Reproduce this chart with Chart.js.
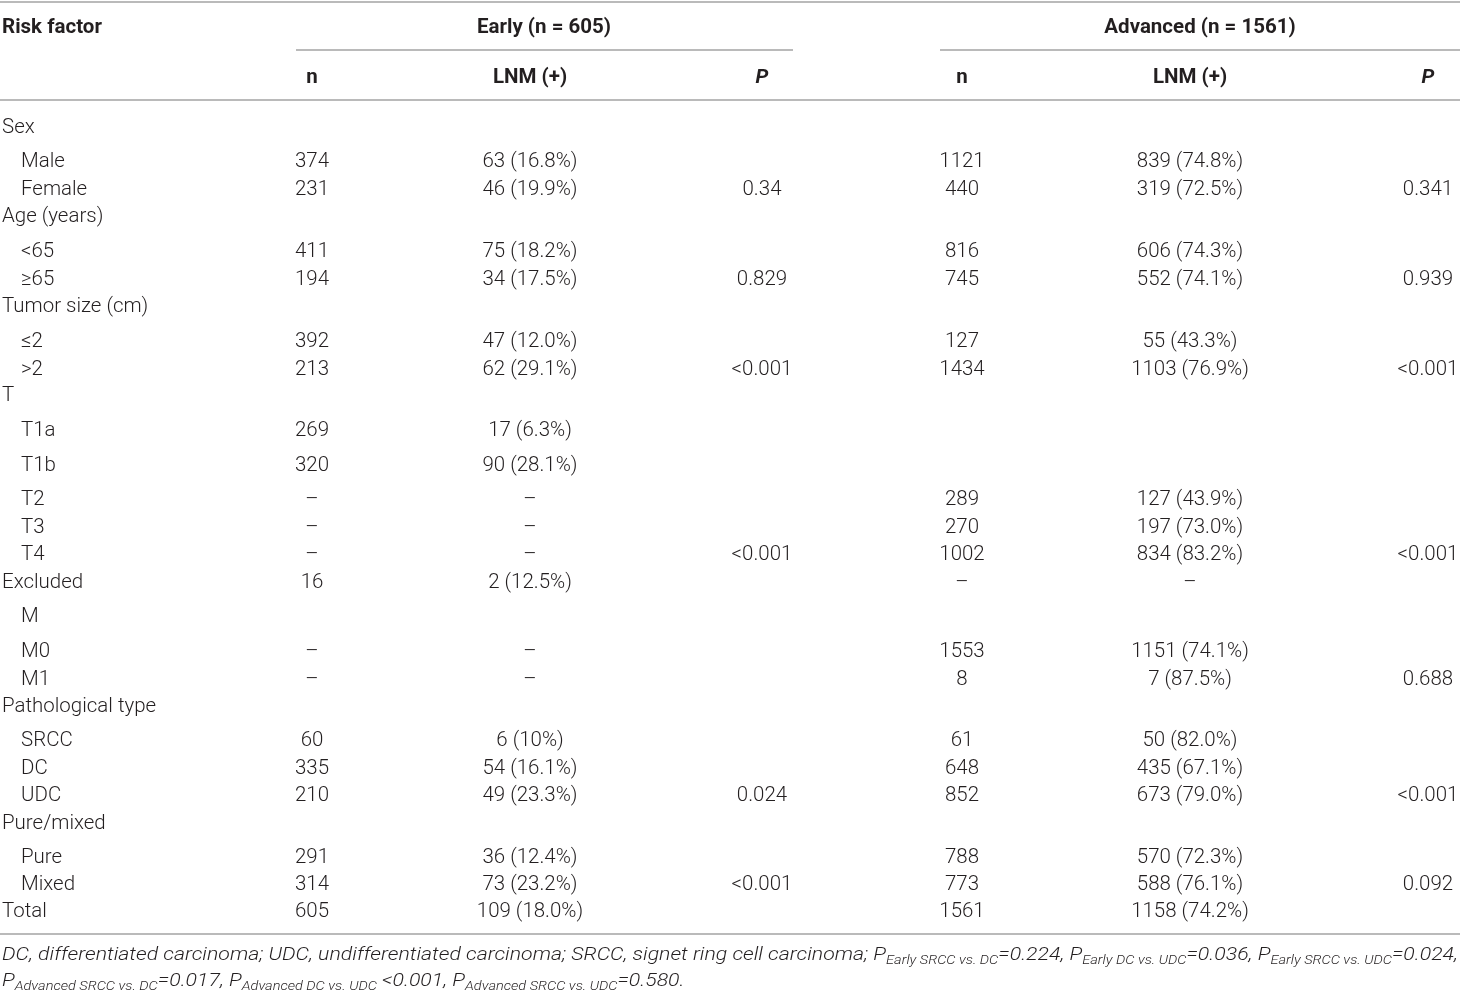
<!DOCTYPE html>
<html>
<head>
<meta charset="utf-8">
<script src="https://cdn.jsdelivr.net/npm/chart.js@4/dist/chart.umd.min.js"></script>
<style>
  html, body { margin: 0; padding: 0; background: #fff; }
  #wrap { width: 1460px; height: 991px; position: relative; }
</style>
</head>
<body>
<div id="wrap"><canvas id="myChart"></canvas></div>
<script>
// ---------------- table data ----------------
const rowLabels = [
  "Sex", "Male", "Female",
  "Age (years)", "<65", "≥65",
  "Tumor size (cm)", "≤2", ">2",
  "T", "T1a", "T1b", "T2", "T3", "T4",
  "Excluded", "M", "M0", "M1",
  "Pathological type", "SRCC", "DC", "UDC",
  "Pure/mixed", "Pure", "Mixed",
  "Total"
];
const earlyN = [
  "", "374", "231",
  "", "411", "194",
  "", "392", "213",
  "", "269", "320", "–", "–", "–",
  "16", "", "–", "–",
  "", "60", "335", "210",
  "", "291", "314",
  "605"
];
const earlyLNM = [
  "", "63 (16.8%)", "46 (19.9%)",
  "", "75 (18.2%)", "34 (17.5%)",
  "", "47 (12.0%)", "62 (29.1%)",
  "", "17 (6.3%)", "90 (28.1%)", "–", "–", "–",
  "2 (12.5%)", "", "–", "–",
  "", "6 (10%)", "54 (16.1%)", "49 (23.3%)",
  "", "36 (12.4%)", "73 (23.2%)",
  "109 (18.0%)"
];
const earlyP = [
  "", "", "0.34",
  "", "", "0.829",
  "", "", "<0.001",
  "", "", "", "", "", "<0.001",
  "", "", "", "",
  "", "", "", "0.024",
  "", "", "<0.001",
  ""
];
const advN = [
  "", "1121", "440",
  "", "816", "745",
  "", "127", "1434",
  "", "", "", "289", "270", "1002",
  "–", "", "1553", "8",
  "", "61", "648", "852",
  "", "788", "773",
  "1561"
];
const advLNM = [
  "", "839 (74.8%)", "319 (72.5%)",
  "", "606 (74.3%)", "552 (74.1%)",
  "", "55 (43.3%)", "1103 (76.9%)",
  "", "", "", "127 (43.9%)", "197 (73.0%)", "834 (83.2%)",
  "–", "", "1151 (74.1%)", "7 (87.5%)",
  "", "50 (82.0%)", "435 (67.1%)", "673 (79.0%)",
  "", "570 (72.3%)", "588 (76.1%)",
  "1158 (74.2%)"
];
const advP = [
  "", "", "0.341",
  "", "", "0.939",
  "", "", "<0.001",
  "", "", "", "", "", "<0.001",
  "", "", "", "0.688",
  "", "", "", "<0.001",
  "", "", "0.092",
  ""
];
const groupTitles = ["Early (n = 605)", "Advanced (n = 1561)"];
const colTitles = ["n", "LNM (+)", "P", "n", "LNM (+)", "P"];
const footLine1 = [
  ["DC, differentiated carcinoma; UDC, undifferentiated carcinoma; SRCC, signet ring cell carcinoma; P", 0],
  ["Early SRCC vs. DC", 1], ["=0.224, P", 0],
  ["Early DC vs. UDC", 1], ["=0.036, P", 0],
  ["Early SRCC vs. UDC", 1], ["=0.024,", 0]
];
const footLine2 = [
  ["P", 0], ["Advanced SRCC vs. DC", 1], ["=0.017, P", 0],
  ["Advanced DC vs. UDC", 1], [" <0.001, P", 0],
  ["Advanced SRCC vs. UDC", 1], ["=0.580.", 0]
];

// ---------------- layout (scale units) ----------------
const rowY = [126, 160, 188, 215, 250, 278, 305, 340, 368, 394, 429, 464, 498, 526, 553,
  581, 615, 650, 678, 705, 739, 767, 794, 822, 856, 883, 910];
const indented = [0, 1, 1, 0, 1, 1, 0, 1, 1, 0, 1, 1, 1, 1, 1, 0, 1, 1, 1, 0, 1, 1, 1, 0, 1, 1, 0];
const colX = [312, 530, 762, 962, 1190, 1428];
const textColor = "#231f20";
const ruleColor = "#a3a3a3";
const bodyFont = "300 20px Roboto";
const boldFont = "700 20px Roboto";

const columns = [earlyN, earlyLNM, earlyP, advN, advLNM, advP];

function cellPoints(values, x) {
  return values.map((v, i) => ({ x: x, y: rowY[i], t: v }));
}

const datasets = [
  {
    label: "Risk factor",
    data: rowLabels.map((v, i) => ({ x: indented[i] ? 21 : 2, y: rowY[i], t: v })),
    align: "left",
  },
];
columns.forEach((col, c) => {
  datasets.push({ label: colTitles[c], data: cellPoints(col, colX[c]), align: "center" });
});
datasets.forEach((d) => {
  d.pointRadius = 0;
  d.pointHoverRadius = 0;
  d.showLine = false;
});

let sxBody = 1, sxBold = 1;

function drawText(ctx, text, x, y, align, font, sx) {
  ctx.save();
  ctx.font = font;
  const w = ctx.measureText(text).width * sx;
  let left = x;
  if (align === "center") left = x - w / 2;
  if (align === "right") left = x - w;
  ctx.translate(left, y);
  ctx.scale(sx, 1);
  ctx.textAlign = "left";
  ctx.textBaseline = "alphabetic";
  ctx.fillText(text, 0, 0);
  ctx.restore();
}

const tablePlugin = {
  id: "tableText",
  afterDatasetsDraw(chart) {
    const ctx = chart.ctx;
    const xs = chart.scales.x;
    const ys = chart.scales.y;
    ctx.save();
    ctx.fillStyle = textColor;

    ctx.font = bodyFont;
    sxBody = 95 / ctx.measureText("63 (16.8%)").width;
    ctx.font = boldFont;
    sxBold = 134 / ctx.measureText("Early (n = 605)").width;

    // rules
    ctx.strokeStyle = ruleColor;
    ctx.lineWidth = 1.6;
    const rule = (x1, x2, y) => {
      ctx.beginPath();
      ctx.moveTo(xs.getPixelForValue(x1), ys.getPixelForValue(y));
      ctx.lineTo(xs.getPixelForValue(x2), ys.getPixelForValue(y));
      ctx.stroke();
    };
    rule(0, 1460, 2);
    rule(296, 793, 50);
    rule(940, 1460, 50);
    rule(0, 1460, 100);
    rule(0, 1460, 934);

    // headers
    const base = 7;
    drawText(ctx, "Risk factor", xs.getPixelForValue(2), ys.getPixelForValue(26) + base, "left", boldFont, sxBold);
    drawText(ctx, groupTitles[0], xs.getPixelForValue(544), ys.getPixelForValue(26) + base, "center", boldFont, sxBold);
    drawText(ctx, groupTitles[1], xs.getPixelForValue(1200), ys.getPixelForValue(26) + base, "center", boldFont, sxBold);
    colTitles.forEach((t, c) => {
      const f = t === "P" ? "italic " + boldFont : boldFont;
      drawText(ctx, t, xs.getPixelForValue(colX[c]), ys.getPixelForValue(76) + base, "center", f, sxBold);
    });

    // body cells
    chart.data.datasets.forEach((ds, di) => {
      const meta = chart.getDatasetMeta(di);
      meta.data.forEach((pt, i) => {
        const t = ds.data[i].t;
        if (!t) return;
        drawText(ctx, t, pt.x, pt.y + base, ds.align, bodyFont, sxBody);
      });
    });

    // footnote (baselines)
    const mainF = "italic 300 19px Roboto";
    const subF = "italic 300 13px Roboto";
    const segWidth = (segs) => segs.reduce((s, g) => {
      ctx.font = g[1] ? subF : mainF;
      return s + ctx.measureText(g[0]).width;
    }, 0);
    const sxFoot = 1456 / segWidth(footLine1);
    const drawFoot = (segs, yVal) => {
      let x = xs.getPixelForValue(2);
      const y = ys.getPixelForValue(yVal);
      segs.forEach((g) => {
        const f = g[1] ? subF : mainF;
        drawText(ctx, g[0], x, y + (g[1] ? 4 : 0), "left", f, sxFoot);
        ctx.font = f;
        x += ctx.measureText(g[0]).width * sxFoot;
      });
    };
    drawFoot(footLine1, 960);
    drawFoot(footLine2, 986);

    ctx.restore();
  },
};

new Chart(document.getElementById("myChart"), {
  type: "scatter",
  data: { datasets },
  options: {
    responsive: true,
    maintainAspectRatio: false,
    animation: false,
    events: [],
    layout: { padding: 0 },
    plugins: { legend: { display: false }, tooltip: { enabled: false } },
    scales: {
      x: { type: "linear", min: 0, max: 1460, display: false },
      y: { type: "linear", min: 0, max: 991, reverse: true, display: false },
    },
  },
  plugins: [tablePlugin],
});
</script>
</body>
</html>
